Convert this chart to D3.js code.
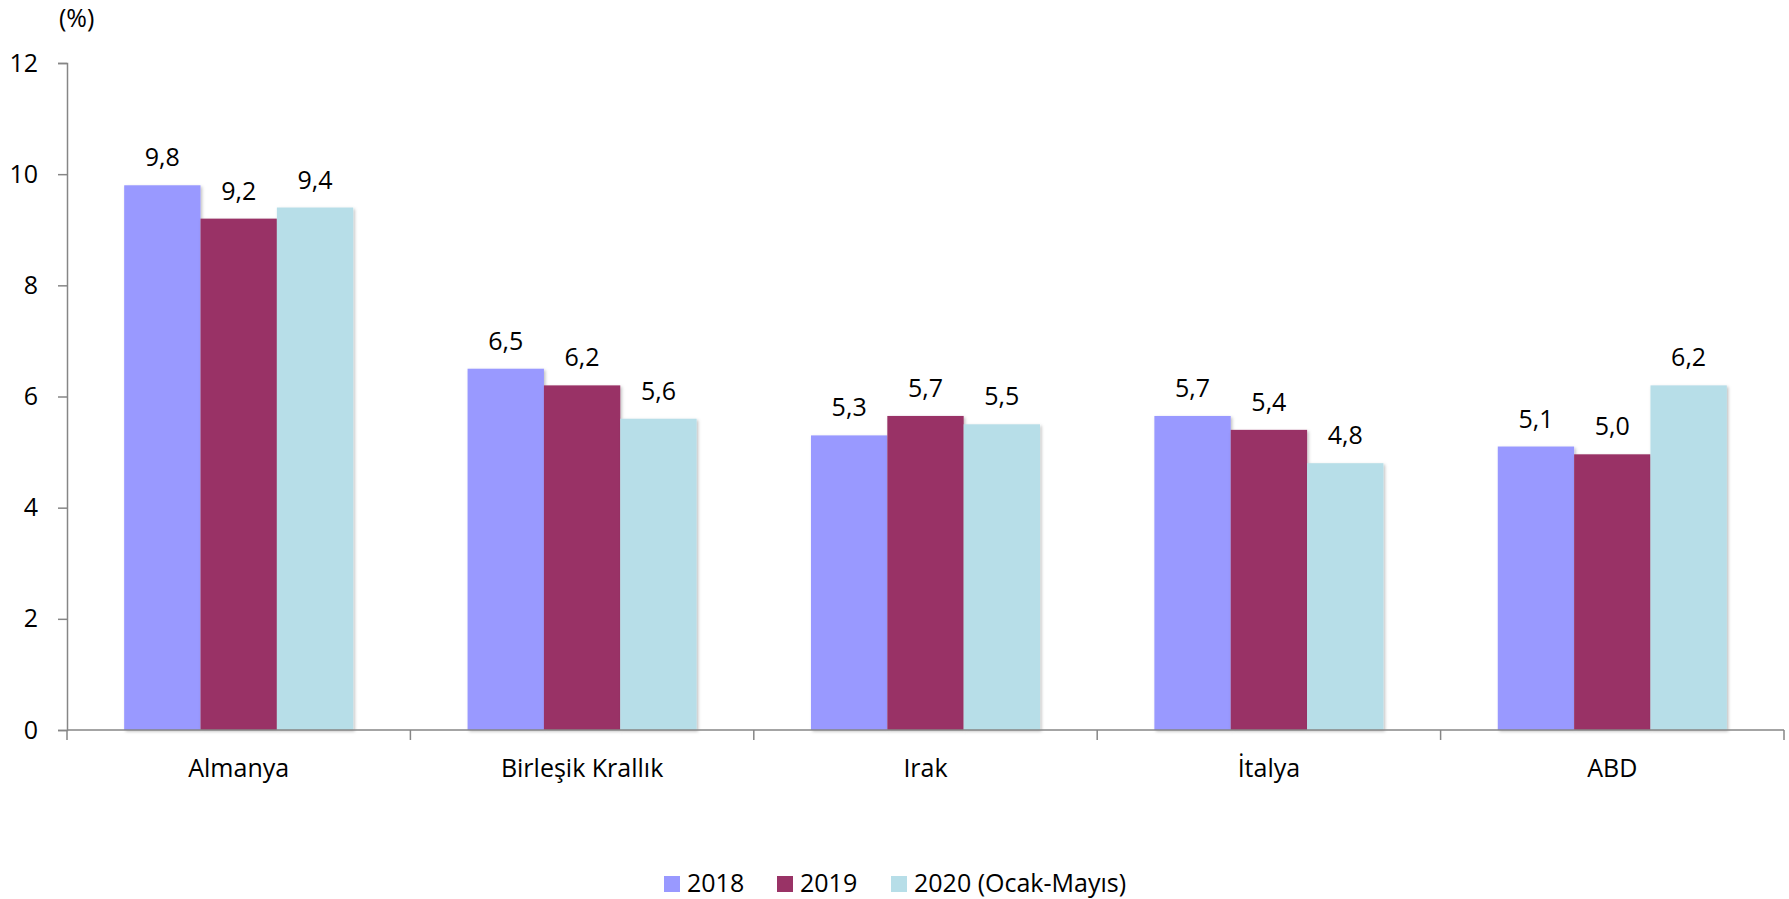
<!DOCTYPE html>
<html>
<head>
<meta charset="utf-8">
<script src="https://cdn.jsdelivr.net/npm/d3@7"></script>
<style>
  body { margin: 0; background: #fff; }
  svg { display: block; font-family: "Open Sans", Lato, sans-serif; }
</style>
</head>
<body>
<div id="chart"></div>
<script>
// Chart data
const categories = ['Almanya', 'Birleşik Krallık', 'Irak', 'İtalya', 'ABD'];
const seriesNames = ['2018', '2019', '2020 (Ocak-Mayıs)'];
const values2018 = [9.8, 6.5, 5.3, 5.65, 5.1];
const values2019 = [9.2, 6.2, 5.65, 5.4, 4.96];
const values2020 = [9.4, 5.6, 5.5, 4.8, 6.2];
const yTicks = [0, 2, 4, 6, 8, 10, 12];
const colors = ['#9999FF', '#993366', '#B7DEE8'];

const width = 1789, height = 899;
const margin = { top: 63, right: 5, bottom: 169, left: 67 };
const innerW = width - margin.left - margin.right;
const innerH = height - margin.top - margin.bottom;
const fontSize = '25px';

const series = [values2018, values2019, values2020];

const svg = d3.select('#chart')
  .append('svg')
  .attr('width', width)
  .attr('height', height);

// soft shadow like the original
const defs = svg.append('defs');
const filter = defs.append('filter').attr('id', 'shadow')
  .attr('x', '-10%').attr('y', '-10%').attr('width', '130%').attr('height', '130%');
filter.append('feDropShadow')
  .attr('dx', 1.5).attr('dy', 1.5).attr('stdDeviation', 1.5)
  .attr('flood-color', '#000').attr('flood-opacity', 0.25);

const g = svg.append('g')
  .attr('transform', `translate(${margin.left},${margin.top})`);

const x0 = d3.scaleBand()
  .domain(categories)
  .range([0, innerW])
  .paddingInner(0.333)
  .paddingOuter(0.1665);

const x1 = d3.scaleBand()
  .domain(d3.range(series.length))
  .range([0, x0.bandwidth()])
  .padding(0);

const y = d3.scaleLinear()
  .domain([0, 12])
  .range([innerH, 0]);

const fmt = v => d3.format('.1f')(v).replace('.', ',');

// Bars
const groups = g.selectAll('.group')
  .data(categories)
  .enter().append('g')
  .attr('class', 'group')
  .attr('transform', d => `translate(${x0(d)},0)`);

groups.selectAll('rect')
  .data((d, i) => series.map((s, k) => ({ k, v: s[i] })))
  .enter().append('rect')
  .attr('x', d => x1(d.k))
  .attr('y', d => y(d.v))
  .attr('width', x1.bandwidth())
  .attr('height', d => innerH - y(d.v))
  .attr('fill', d => colors[d.k])
  .attr('filter', 'url(#shadow)');

groups.selectAll('.label')
  .data((d, i) => series.map((s, k) => ({ k, v: s[i] })))
  .enter().append('text')
  .attr('class', 'label')
  .attr('x', d => x1(d.k) + x1.bandwidth() / 2)
  .attr('y', d => y(d.v) - 19)
  .attr('text-anchor', 'middle')
  .style('font-size', fontSize)
  .style('fill', '#000')
  .text(d => fmt(d.v));

// Y axis
const yAxis = g.append('g')
  .call(d3.axisLeft(y).tickValues(yTicks).tickSize(9).tickPadding(20).tickFormat(d3.format('d')));
yAxis.select('.domain').attr('stroke', '#868686').attr('stroke-width', 1.5);
yAxis.selectAll('.tick line').attr('stroke', '#868686').attr('stroke-width', 1.5);
yAxis.selectAll('.tick text').style('font-size', fontSize).style('fill', '#000')
  .style('font-family', '"Open Sans", Lato, sans-serif');

// X axis: line + separators between categories
const xAxis = g.append('g').attr('transform', `translate(0,${innerH})`);
xAxis.append('line')
  .attr('x1', 0).attr('x2', innerW)
  .attr('stroke', '#868686').attr('stroke-width', 1.5);
const boundaries = categories.map(c => x0(c) - x0.step() * x0.paddingInner() / 2).concat([innerW]);
xAxis.selectAll('.sep')
  .data(boundaries)
  .enter().append('line')
  .attr('x1', d => d).attr('x2', d => d)
  .attr('y1', 0).attr('y2', 10)
  .attr('stroke', '#868686').attr('stroke-width', 1.5);
xAxis.selectAll('.cat')
  .data(categories)
  .enter().append('text')
  .attr('x', d => x0(d) + x0.bandwidth() / 2)
  .attr('y', 47)
  .attr('text-anchor', 'middle')
  .style('font-size', fontSize)
  .text(d => d);

// Unit label
svg.append('text')
  .attr('x', 59).attr('y', 27)
  .style('font-size', fontSize)
  .text('(%)');

// Legend
const legendX = [664, 777, 891];
const legend = svg.append('g').attr('class', 'legend');
seriesNames.forEach((name, i) => {
  legend.append('rect')
    .attr('x', legendX[i]).attr('y', 876)
    .attr('width', 16).attr('height', 16)
    .attr('fill', colors[i]);
  legend.append('text')
    .attr('x', legendX[i] + 23).attr('y', 892)
    .style('font-size', fontSize)
    .text(name);
});
</script>
</body>
</html>
